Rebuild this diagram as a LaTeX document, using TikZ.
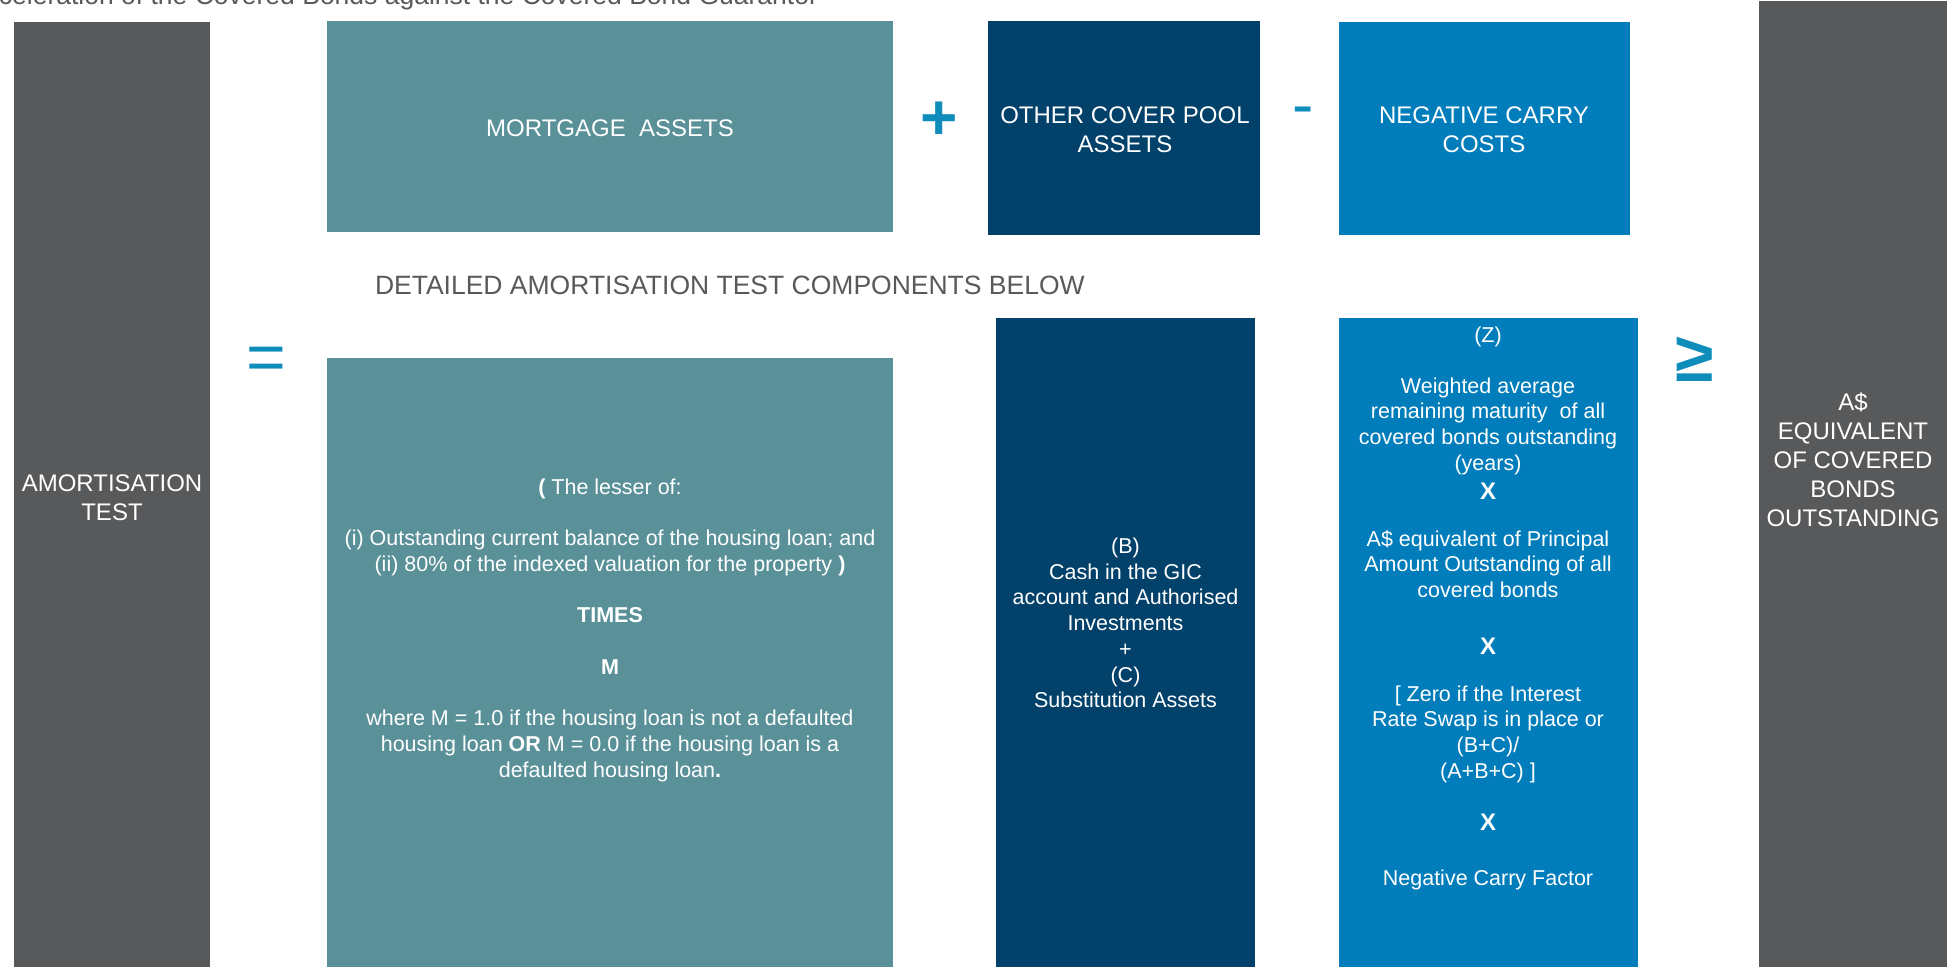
\documentclass[tikz,border=0pt]{standalone}
\usepackage{fontspec}
\setmainfont{Liberation Sans}
\definecolor{gbox}{HTML}{58595B}
\definecolor{tealbox}{HTML}{5A9199}
\definecolor{navybox}{HTML}{02416A}
\definecolor{bluebox}{HTML}{007DBA}
\definecolor{symb}{HTML}{0E8CBA}
\definecolor{txtgray}{HTML}{595959}
\newcommand\fsz[2]{\fontsize{#1}{#2}\selectfont}
\begin{document}
\begin{tikzpicture}[x=1pt,y=-1pt,
  box/.style={draw=none, inner sep=0pt, outer sep=0pt, anchor=north west, text=white, align=center, font=\fsz{24}{28.6}},
  lbl/.style={inner sep=0pt, outer sep=0pt, text=white, align=center, font=\fsz{24}{29}},
  small/.style={inner sep=0pt, outer sep=0pt, text=white, align=center, font=\fsz{21.5}{25.7}},
  times/.style={inner sep=0pt, outer sep=0pt, text=white, font=\fsz{24}{28}\bfseries},
  sym/.style={inner sep=0pt, outer sep=0pt, text=symb, anchor=base},
  plain/.style={inner sep=0pt, outer sep=0pt, text=txtgray}]
\useasboundingbox (0,0) rectangle (1947,967);
\fill[white] (0,0) rectangle (1947,967);

% title (cut at top, as in the reference)
\node[plain, anchor=base east, font=\fsz{26.5}{30}] (title) at (818,4.5) {celeration of the Covered Bonds against the Covered Bond Guarantor};

% left and right grey columns
\node[box, fill=gbox, minimum width=196.3pt, minimum height=944.6pt] (amort) at (13.7,22.4) {};
\node[lbl] (amortT) at (112,497.5) {AMORTISATION\\TEST};
\node[box, fill=gbox, minimum width=188pt, minimum height=966pt] (equiv) at (1759,1) {};
\node[lbl] (equivT) at (1853,460) {A\$\\EQUIVALENT\\OF COVERED\\BONDS\\OUTSTANDING};

% top row
\node[box, fill=tealbox, minimum width=566.2pt, minimum height=211pt] (mort) at (326.6,21) {};
\node[lbl] (mortL) at (610,128.5) {MORTGAGE\ \ ASSETS};
\node[box, fill=navybox, minimum width=272pt, minimum height=214pt] (other) at (988,21) {};
\node[lbl] (otherL) at (1125,130) {OTHER COVER POOL\\ASSETS};
\node[box, fill=bluebox, minimum width=291.5pt, minimum height=213pt] (neg) at (1338.5,22) {};
\node[lbl] (negL) at (1484,130) {NEGATIVE CARRY\\COSTS};

\node[sym, font=\fsz{64}{64}\bfseries] (plus) at (939,139.5) {+};
\node[sym, font=\fsz{64}{64}] (minus) at (1303,126.5) {-};

% heading
\node[plain, anchor=base west, font=\fsz{26.5}{30}] (detail) at (375,294) {DETAILED AMORTISATION TEST COMPONENTS BELOW};

% symbols
\node[sym, font=\fsz{68}{68}] (eq) at (266.5,380) {=};
\node[sym, font=\fsz{70}{70}\bfseries] (geq) at (1695,381) {≥};

% bottom row
\node[box, fill=tealbox, minimum width=566.2pt, minimum height=609.4pt] (mortB) at (326.6,357.6) {};
\node[box, fill=navybox, minimum width=259pt, minimum height=649pt] (cashB) at (996,318) {};
\node[box, fill=bluebox, minimum width=299.5pt, minimum height=649pt] (zB) at (1338.5,318) {};

\node[small] (mortT) at (610,630.2) {{\bfseries (} The lesser of:\\\mbox{}\\
(i) Outstanding current balance of the housing loan; and\\
(ii) 80\% of the indexed valuation for the property {\bfseries )}\\\mbox{}\\
{\bfseries TIMES}\\\mbox{}\\
{\bfseries M}\\\mbox{}\\
where M = 1.0 if the housing loan is not a defaulted\\
housing loan {\bfseries OR} M = 0.0 if the housing loan is a\\
defaulted housing loan{\bfseries .}};

\node[small] (cashT) at (1125.5,623) {(B)\\Cash in the GIC\\account and Authorised\\Investments\\+\\(C)\\Substitution Assets};

\node[small] (z1) at (1488,336.5) {(Z)};
\node[small] (z2) at (1488,426) {Weighted average\\remaining maturity\ \ of all\\covered bonds outstanding\\(years)};
\node[times] (x1) at (1488,491) {X};
\node[small] (z3) at (1488,564) {A\$ equivalent of Principal\\Amount Outstanding of all\\covered bonds};
\node[times] (x2) at (1488,646) {X};
\node[small] (z4) at (1488,734) {[ Zero if the Interest\\Rate Swap is in place or\\(B+C)/\\(A+B+C) ]};
\node[times] (x3) at (1488,822) {X};
\node[small] (z5) at (1488,880) {Negative Carry Factor};
\end{tikzpicture}
\end{document}
